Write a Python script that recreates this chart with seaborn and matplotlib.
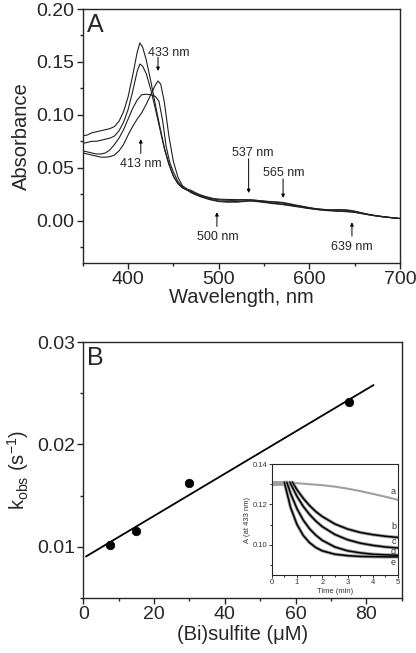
import numpy as np
import pandas as pd
import matplotlib
matplotlib.use("Agg")
import matplotlib.pyplot as plt
from matplotlib.ticker import MultipleLocator
import seaborn as sns

# ---------------- Panel A data (UV-vis spectra) ----------------
WL_C1 = [350, 355, 360, 365, 370, 375, 380, 385, 390, 395, 400, 405, 410, 413, 416,
         420, 425, 430, 435, 440, 445, 450, 455, 460, 465]
ABS_C1 = [0.080, 0.081, 0.083, 0.084, 0.085, 0.086, 0.087, 0.089, 0.094, 0.103, 0.117,
          0.137, 0.159, 0.168, 0.164, 0.152, 0.132, 0.110, 0.089, 0.069, 0.054, 0.042,
          0.035, 0.031, 0.029]
WL_C2 = [350, 355, 360, 365, 370, 375, 380, 385, 390, 395, 400, 405, 410, 413, 416,
         420, 425, 430, 435, 440, 445, 450, 455, 460, 465]
ABS_C2 = [0.073, 0.074, 0.075, 0.075, 0.076, 0.077, 0.078, 0.080, 0.085, 0.093, 0.105,
          0.122, 0.141, 0.148, 0.146, 0.139, 0.124, 0.106, 0.087, 0.068, 0.053, 0.042,
          0.035, 0.031, 0.029]
WL_C3 = [350, 355, 360, 365, 370, 375, 380, 385, 390, 395, 400, 405, 410, 415, 420,
         425, 430, 434, 438, 442, 446, 450, 455, 460, 465]
ABS_C3 = [0.066, 0.065, 0.064, 0.063, 0.063, 0.064, 0.067, 0.072, 0.078, 0.086, 0.096,
          0.106, 0.114, 0.119, 0.1195, 0.119, 0.1175, 0.113, 0.095, 0.070, 0.055, 0.046,
          0.037, 0.032, 0.029]
WL_C4 = [350, 355, 360, 365, 370, 375, 380, 385, 390, 395, 400, 405, 410, 415, 420,
         425, 430, 433, 436, 440, 445, 450, 455, 460, 465]
ABS_C4 = [0.064, 0.063, 0.062, 0.061, 0.060, 0.060, 0.0605, 0.062, 0.066, 0.072, 0.081,
          0.089, 0.096, 0.102, 0.110, 0.119, 0.128, 0.132, 0.129, 0.112, 0.080, 0.056,
          0.041, 0.033, 0.030]

WL_TAIL = list(range(470, 701, 5))
TAIL_C1 = [0.0262, 0.0243, 0.0226, 0.0212, 0.0199, 0.0190, 0.0181, 0.0178, 0.0175, 0.0176,
           0.0175, 0.0179, 0.0183, 0.0186, 0.0182, 0.0178, 0.0172, 0.0167, 0.0161, 0.0157,
           0.0153, 0.0146, 0.0140, 0.0133, 0.0128, 0.0120, 0.0114, 0.0108, 0.0103, 0.0099,
           0.0095, 0.0093, 0.0089, 0.0088, 0.0085, 0.0083, 0.0078, 0.0071, 0.0063, 0.0056,
           0.0049, 0.0043, 0.0037, 0.0033, 0.0028, 0.0024, 0.0020]
TAIL_C2 = [0.0268, 0.0248, 0.0230, 0.0217, 0.0203, 0.0194, 0.0186, 0.0183, 0.0180, 0.0180,
           0.0181, 0.0184, 0.0187, 0.0189, 0.0187, 0.0182, 0.0177, 0.0171, 0.0166, 0.0162,
           0.0157, 0.0151, 0.0144, 0.0137, 0.0131, 0.0124, 0.0117, 0.0111, 0.0106, 0.0102,
           0.0098, 0.0095, 0.0092, 0.0090, 0.0088, 0.0085, 0.0080, 0.0073, 0.0065, 0.0057,
           0.0050, 0.0044, 0.0038, 0.0033, 0.0028, 0.0024, 0.0020]
TAIL_C3 = [0.0275, 0.0255, 0.0238, 0.0224, 0.0212, 0.0203, 0.0197, 0.0194, 0.0193, 0.0192,
           0.0193, 0.0195, 0.0196, 0.0196, 0.0193, 0.0188, 0.0184, 0.0179, 0.0175, 0.0172,
           0.0167, 0.0160, 0.0152, 0.0144, 0.0137, 0.0129, 0.0121, 0.0115, 0.0110, 0.0106,
           0.0103, 0.0101, 0.0100, 0.0100, 0.0098, 0.0094, 0.0087, 0.0078, 0.0069, 0.0060,
           0.0052, 0.0046, 0.0040, 0.0035, 0.0030, 0.0025, 0.0021]
TAIL_C4 = [0.0285, 0.0262, 0.0244, 0.0230, 0.0218, 0.0209, 0.0204, 0.0202, 0.0201, 0.0200,
           0.0199, 0.0199, 0.0198, 0.0197, 0.0194, 0.0190, 0.0186, 0.0182, 0.0179, 0.0177,
           0.0173, 0.0166, 0.0157, 0.0148, 0.0140, 0.0132, 0.0124, 0.0117, 0.0111, 0.0107,
           0.0104, 0.0103, 0.0104, 0.0105, 0.0103, 0.0098, 0.0090, 0.0080, 0.0070, 0.0061,
           0.0053, 0.0046, 0.0040, 0.0035, 0.0030, 0.0026, 0.0022]

# annotations: label, text position (x, y), arrow x, arrow tail y, arrow head y
ANN_LABELS = ["433 nm", "413 nm", "537 nm", "565 nm", "500 nm", "639 nm"]
ANN_TEXT_X = [444.5, 414, 538, 572, 498.5, 646.5]
ANN_TEXT_Y = [0.158, 0.0533, 0.0636, 0.0455, -0.0157, -0.025]
ANN_TAIL_X = [433, 414, 533, 571, 498, 647]
ANN_TAIL_Y = [0.1545, 0.0635, 0.0585, 0.0395, -0.0055, -0.0145]
ANN_HEAD_Y = [0.1415, 0.0770, 0.0262, 0.0215, 0.0080, -0.0015]

# ---------------- Panel B data ----------------
SULFITE = [7.5, 15, 30, 75]
KOBS = [0.0102, 0.0115, 0.0162, 0.0241]
FIT_X = [0.8, 82]
FIT_Y = [0.00906, 0.0258]

# ---------------- Inset data (A at 433 nm vs time) ----------------
T_A = [0, 0.5, 1.0, 1.5, 2.0, 2.5, 3.0, 3.5, 4.0, 4.5, 5.0]
A_A = [0.1300, 0.1305, 0.1305, 0.1300, 0.1295, 0.1288, 0.1278, 0.1266, 0.1252, 0.1238, 0.1222]
T_FLAT = [0.0, 0.8]
A_FLAT = [0.1305, 0.1305]
T_B = [0.82, 1.0, 1.25, 1.5, 1.75, 2.0, 2.5, 3.0, 3.5, 4.0, 4.5, 5.0]
A_B = [0.1310, 0.1273, 0.1230, 0.1194, 0.1164, 0.1140, 0.1103, 0.1078, 0.1061, 0.1050, 0.1042, 0.1036]
T_C = [0.72, 1.0, 1.25, 1.5, 1.75, 2.0, 2.5, 3.0, 3.5, 4.0, 4.5, 5.0]
A_C = [0.1310, 0.1240, 0.1190, 0.1150, 0.1117, 0.1090, 0.1051, 0.1025, 0.1008, 0.0997, 0.0989, 0.0984]
T_D = [0.6, 0.75, 1.0, 1.25, 1.5, 1.75, 2.0, 2.5, 3.0, 3.5, 4.0, 4.5, 5.0]
A_D = [0.1310, 0.1254, 0.1179, 0.1122, 0.1079, 0.1047, 0.1022, 0.0989, 0.0970, 0.0960, 0.0953, 0.0950, 0.0948]
T_E = [0.5, 0.75, 1.0, 1.25, 1.5, 1.75, 2.0, 2.5, 3.0, 3.5, 4.0, 4.5, 5.0]
A_E = [0.1310, 0.1184, 0.1101, 0.1046, 0.1010, 0.0986, 0.0970, 0.0953, 0.0946, 0.0942, 0.0941, 0.0940, 0.0940]
INSET_LABELS = ["a", "b", "c", "d", "e"]
INSET_LABEL_Y = [0.1266, 0.1089, 0.1018, 0.0966, 0.0912]

# ---------------- Style ----------------
sns.set_style("ticks")
plt.rcParams["font.family"] = ["Liberation Sans", "DejaVu Sans"]
plt.rcParams["mathtext.default"] = "regular"
plt.rcParams["axes.linewidth"] = 1.0

fig = plt.figure(figsize=(4.16, 6.53), dpi=100)

# ---------------- Panel A ----------------
axA = fig.add_axes([0.199, 0.5972, 0.7625, 0.389])
spectra = [(WL_C1, ABS_C1, TAIL_C1), (WL_C2, ABS_C2, TAIL_C2),
           (WL_C3, ABS_C3, TAIL_C3), (WL_C4, ABS_C4, TAIL_C4)]
for wl, ab, tail in spectra:
    df = pd.DataFrame({"wl": list(wl) + WL_TAIL, "abs": list(ab) + tail})
    sns.lineplot(data=df, x="wl", y="abs", ax=axA, color="#202020", lw=0.8,
                 estimator=None, sort=False)
axA.set_xlim(350, 700)
axA.set_ylim(-0.04, 0.20)
axA.xaxis.set_major_locator(MultipleLocator(100))
axA.xaxis.set_minor_locator(MultipleLocator(50))
axA.yaxis.set_minor_locator(MultipleLocator(0.025))
axA.set_yticks([0.0, 0.05, 0.10, 0.15, 0.20])
axA.set_yticklabels(["0.00", "0.05", "0.10", "0.15", "0.20"])
axA.tick_params(which="major", direction="out", length=4, width=1, labelsize=14, pad=2)
axA.tick_params(which="minor", direction="out", length=2.5, width=1)
axA.tick_params(top=False, right=False)
axA.set_xlabel("Wavelength, nm", fontsize=14.5, labelpad=0)
axA.set_ylabel("Absorbance", fontsize=14.5, labelpad=4)
axA.text(0.012, 0.985, "A", transform=axA.transAxes, fontsize=18, va="top", ha="left")
for lab, tx, ty, ax_, ay0, ay1 in zip(ANN_LABELS, ANN_TEXT_X, ANN_TEXT_Y,
                                      ANN_TAIL_X, ANN_TAIL_Y, ANN_HEAD_Y):
    axA.text(tx, ty, lab, fontsize=9, ha="center", va="center")
    axA.annotate("", xy=(ax_, ay1), xytext=(ax_, ay0),
                 arrowprops=dict(arrowstyle="-|>", lw=0.7, color="black",
                                 mutation_scale=5, shrinkA=0, shrinkB=0))

# ---------------- Panel B ----------------
axB = fig.add_axes([0.200, 0.0842, 0.766, 0.392])
sns.lineplot(x=FIT_X, y=FIT_Y, ax=axB, color="black", lw=1.3, estimator=None)
sns.scatterplot(x=SULFITE, y=KOBS, ax=axB, color="black", s=38, edgecolor="black",
                zorder=5)
axB.set_xlim(0, 90)
axB.set_ylim(0.005, 0.03)
axB.xaxis.set_major_locator(MultipleLocator(20))
axB.xaxis.set_minor_locator(MultipleLocator(10))
axB.set_yticks([0.01, 0.02, 0.03])
axB.set_yticklabels(["0.01", "0.02", "0.03"])
axB.yaxis.set_minor_locator(MultipleLocator(0.005))
axB.tick_params(which="major", direction="out", length=4, width=1, labelsize=14, pad=2)
axB.tick_params(which="minor", direction="out", length=2.5, width=1)
axB.set_xlabel("(Bi)sulfite (\u03bcM)", fontsize=14.5, labelpad=1)
axB.set_ylabel("k$_{obs}$ (s$^{-1}$)", fontsize=14.5, labelpad=4)
axB.text(0.012, 0.985, "B", transform=axB.transAxes, fontsize=18, va="top", ha="left")

# ---------------- Inset ----------------
axI = fig.add_axes([0.653, 0.1194, 0.304, 0.170])
gray = "#a0a0a0"
sns.lineplot(x=T_FLAT, y=A_FLAT, ax=axI, color=gray, lw=3.5, estimator=None)
sns.lineplot(x=T_A, y=A_A, ax=axI, color=gray, lw=1.5, estimator=None)
for t, a in [(T_B, A_B), (T_C, A_C), (T_D, A_D), (T_E, A_E)]:
    sns.lineplot(x=t, y=a, ax=axI, color=gray, lw=2.4, estimator=None)
for t, a in [(T_B, A_B), (T_C, A_C), (T_D, A_D), (T_E, A_E)]:
    sns.lineplot(x=t, y=a, ax=axI, color="black", lw=1.1, estimator=None)
for lab, ly in zip(INSET_LABELS, INSET_LABEL_Y):
    axI.text(4.82, ly, lab, fontsize=6.5, ha="center", va="center", color="#333333")
axI.set_xlim(0, 5)
axI.set_ylim(0.085, 0.14)
axI.set_xticks([0, 1, 2, 3, 4, 5])
axI.xaxis.set_minor_locator(MultipleLocator(0.5))
axI.set_yticks([0.10, 0.12, 0.14])
axI.set_yticklabels(["0.10", "0.12", "0.14"])
axI.yaxis.set_minor_locator(MultipleLocator(0.01))
axI.tick_params(which="major", direction="out", length=2, width=0.7, labelsize=5.5,
                pad=1, colors="#333333")
axI.tick_params(which="minor", direction="out", length=1.2, width=0.7)
for sp in axI.spines.values():
    sp.set_linewidth(0.8)
axI.set_xlabel("Time (min)", fontsize=5.5, labelpad=1, color="#333333")
axI.set_ylabel("A (at 433 nm)", fontsize=5.5, labelpad=1, color="#333333")

fig.savefig("out.png", dpi=100)
